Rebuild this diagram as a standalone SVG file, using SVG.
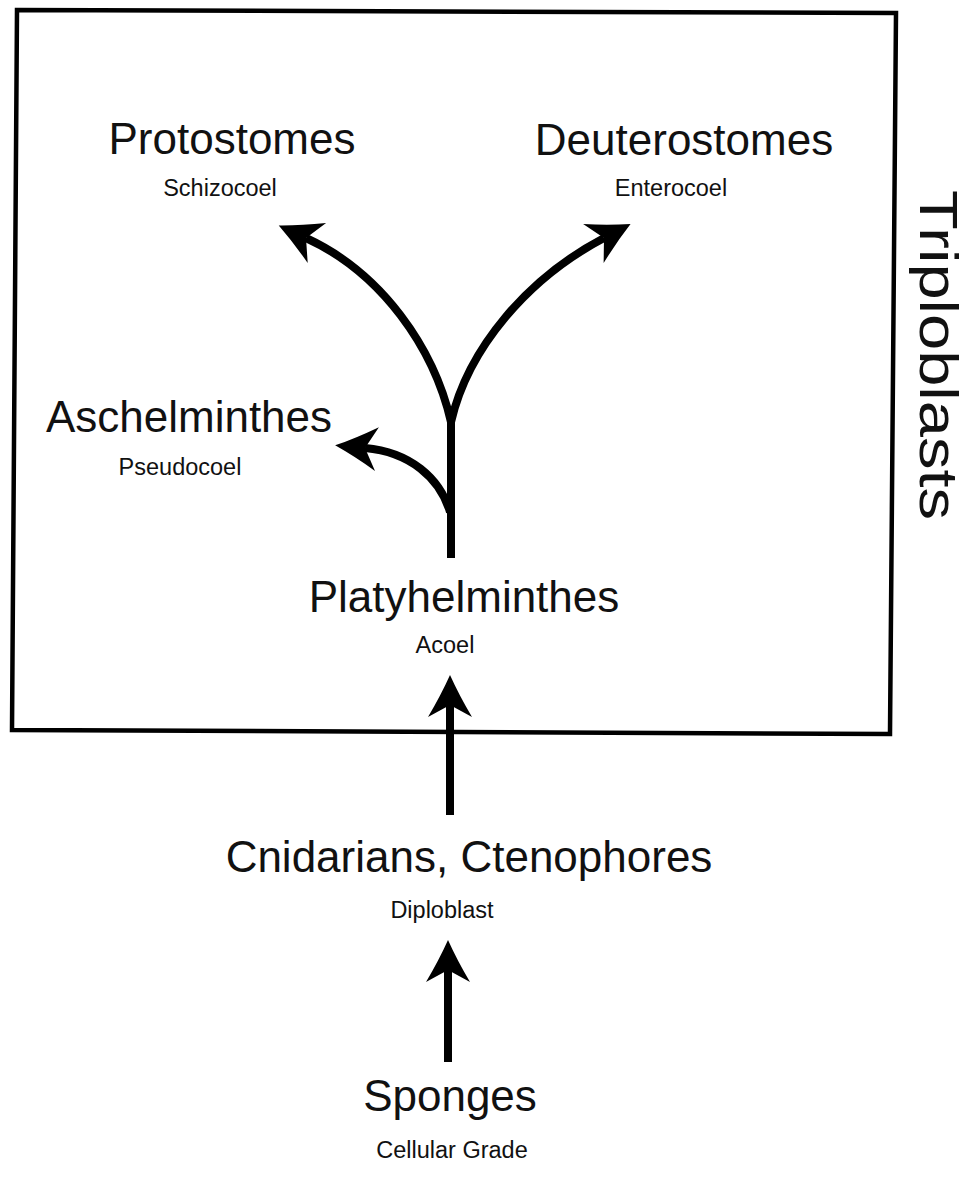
<svg xmlns="http://www.w3.org/2000/svg" width="972" height="1194" viewBox="0 0 972 1194">
<style>
.big{font-family:"Liberation Sans",Arial,sans-serif;font-size:44px;fill:#111;text-anchor:middle}
.small{font-family:"Liberation Sans",Arial,sans-serif;font-size:23.5px;fill:#111;text-anchor:middle}
.side{font-family:"Liberation Sans",Arial,sans-serif;font-size:54px;fill:#111;text-anchor:middle}
.edge{fill:none;stroke:#000;stroke-width:8;stroke-linecap:butt;marker-end:url(#arrow)}
.stem{fill:none;stroke:#000;stroke-width:8}
</style>
<defs>
<marker id="arrow" markerUnits="userSpaceOnUse" markerWidth="50" markerHeight="50" viewBox="0 -25 45 50" refX="12" refY="0" orient="auto" overflow="visible">
<path d="M42,0 Q22,-9 0,-22 L12,0 L0,22 Q22,9 42,0 Z" fill="#000"/>
</marker>
</defs>
<rect width="972" height="1194" fill="#fff"/>
<g id="box">
<polygon points="17,10 896,13 890,734 12,730" fill="none" stroke="#000" stroke-width="4.5"/>
</g>
<g id="connectors">
<path class="stem" d="M451,558 L451,418"/>
<path class="edge" d="M451,422 C 434,348 382,273 306,238"/>
<path class="edge" d="M451,422 C 468,348 528,278 604,238"/>
<path class="edge" d="M450,512 C 440,478 410,452 365,448"/>
<path class="edge" d="M450,815 L450,705"/>
<path class="edge" d="M448,1062 L448,970"/>
</g>
<g id="protostomes">
<text class="big" x="232" y="154">Protostomes</text>
<text class="small" x="220" y="196">Schizocoel</text>
</g>
<g id="deuterostomes">
<text class="big" x="684" y="155">Deuterostomes</text>
<text class="small" x="671" y="196">Enterocoel</text>
</g>
<g id="aschelminthes">
<text class="big" x="189" y="432">Aschelminthes</text>
<text class="small" x="180" y="475">Pseudocoel</text>
</g>
<g id="platyhelminthes">
<text class="big" x="464" y="612">Platyhelminthes</text>
<text class="small" x="445" y="653">Acoel</text>
</g>
<g id="cnidarians">
<text class="big" x="469" y="872">Cnidarians, Ctenophores</text>
<text class="small" x="442" y="918">Diploblast</text>
</g>
<g id="sponges">
<text class="big" x="450" y="1111">Sponges</text>
<text class="small" x="452" y="1158">Cellular Grade</text>
</g>
<g id="triploblasts">
<text class="side" transform="translate(920,355) rotate(90)" x="0" y="0" textLength="330" lengthAdjust="spacingAndGlyphs">Triploblasts</text>
</g>
</svg>
